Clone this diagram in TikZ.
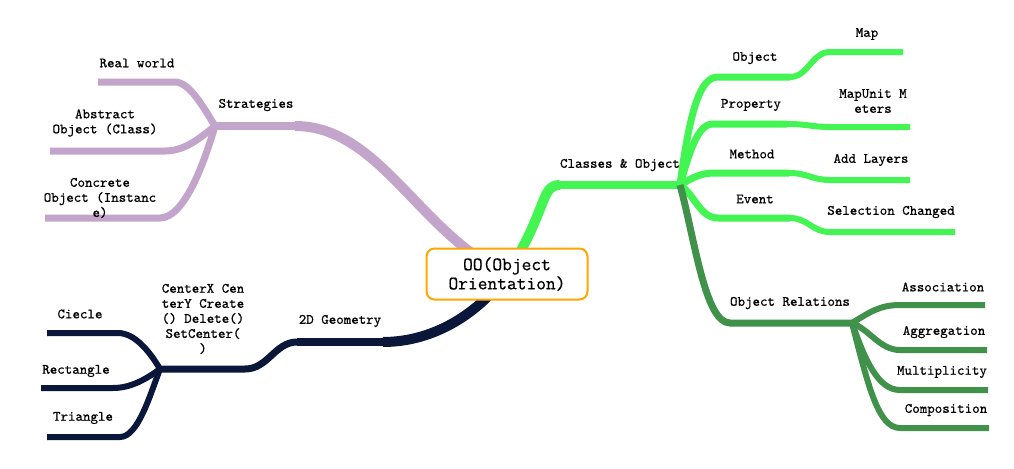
\documentclass[tikz,border=0pt]{standalone}
\usepackage{fontspec}
\newfontfamily\mapfont{Latin Modern Mono}[FakeBold=0.6]
\usetikzlibrary{calc,positioning,backgrounds}
\definecolor{strpurple}{RGB}{195,165,204}
\definecolor{geonavy}{RGB}{10,22,58}
\definecolor{clsgreen}{RGB}{66,245,82}
\definecolor{relgreen}{RGB}{64,145,74}
\definecolor{rootorange}{RGB}{255,166,0}

\begin{document}
\begin{tikzpicture}[x=0.75pt,y=-0.75pt,
	root/.style = {draw=rootorange, line width=1.5pt, rounded corners=6pt, fill=white, align=center,
		minimum width=120.75pt, minimum height=38.25pt, inner sep=0pt, font=\mapfont\fontsize{14.2}{14.3}\selectfont},
	lbl/.style = {align=center, inner sep=0pt, font=\mapfont\fontsize{10.7}{11.3}\selectfont},
	l0/.style = {line width=7.5pt},
	l1/.style = {line width=6pt},
	l2/.style = {line width=5.25pt},
	l3/.style = {line width=4.5pt}]
	\useasboundingbox (0,0) rectangle (1014,468);

	% centre topic
	\node[root] (oo) at (507,274) {OO(Object\\Orientation)};

	% line ends of the topics
	\coordinate (strat-r) at (295,126); \coordinate (strat) at (215,126);
	\coordinate (real-r) at (175,82);   \coordinate (real) at (98,82);
	\coordinate (abs-r) at (165,151);   \coordinate (abs) at (50,151);
	\coordinate (conc-r) at (160,218);  \coordinate (conc) at (45,218);
	\coordinate (geo-r) at (383,342);   \coordinate (geo) at (297,342);
	\coordinate (memb-r) at (245,369);  \coordinate (memb) at (160,369);
	\coordinate (circ-r) at (118,333);  \coordinate (circ) at (47,333);
	\coordinate (rect-r) at (113,388);  \coordinate (rect) at (41,388);
	\coordinate (tri-r) at (120,437);   \coordinate (tri) at (47,437);
	\coordinate (cls-l) at (560,185);   \coordinate (cls) at (680,185);
	\coordinate (obj-l) at (718,77);    \coordinate (obj) at (790,77);
	\coordinate (prop-l) at (713,124);  \coordinate (prop) at (787,124);
	\coordinate (meth-l) at (715,173);  \coordinate (meth) at (789,173);
	\coordinate (evt-l) at (718,218);   \coordinate (evt) at (790,218);
	\coordinate (map-l) at (830,52);    \coordinate (map) at (903,52);
	\coordinate (unit-l) at (830,127);  \coordinate (unit) at (910,127);
	\coordinate (lay-l) at (830,180);   \coordinate (lay) at (910,180);
	\coordinate (sel-l) at (830,232);   \coordinate (sel) at (955,232);
	\coordinate (rel-l) at (730,323);   \coordinate (rel) at (852,323);
	\coordinate (asso-l) at (900,305);  \coordinate (asso) at (985,305);
	\coordinate (aggr-l) at (900,350);  \coordinate (aggr) at (987,350);
	\coordinate (mult-l) at (900,390);  \coordinate (mult) at (988,390);
	\coordinate (comp-l) at (900,428);  \coordinate (comp) at (989,428);

	\begin{scope}[on background layer]
		% Strategies
		\draw[l0, strpurple] (oo.center) .. controls (420,235) and (380,126) .. (strat-r);
		\draw[l1, strpurple] (strat-r) -- (strat);
		\draw[l2, strpurple] (strat) .. controls (205,110) and (190,82) .. (real-r) -- (real);
		\draw[l2, strpurple] (strat) .. controls (200,138) and (185,151) .. (abs-r) -- (abs);
		\draw[l2, strpurple] (strat) .. controls (205,160) and (185,218) .. (conc-r) -- (conc);
		% 2D Geometry
		\draw[l0, geonavy] (oo.center) .. controls (480,312) and (435,342) .. (geo-r);
		\draw[l1, geonavy] (geo-r) -- (geo);
		\draw[l2, geonavy] (geo) .. controls (275,342) and (268,369) .. (memb-r) -- (memb);
		\draw[l3, geonavy] (memb) .. controls (150,352) and (135,333) .. (circ-r) -- (circ);
		\draw[l3, geonavy] (memb) .. controls (145,380) and (130,388) .. (rect-r) -- (rect);
		\draw[l3, geonavy] (memb) .. controls (150,395) and (138,437) .. (tri-r) -- (tri);
		% Classes & Object
		\draw[l0, clsgreen] (oo.center) .. controls (548,210) and (540,185) .. (cls-l);
		\draw[l1, clsgreen] (cls-l) -- (cls);
		\draw[l2, clsgreen] (cls) .. controls (690,110) and (700,77) .. (obj-l) -- (obj);
		\draw[l2, clsgreen] (cls) .. controls (690,150) and (698,124) .. (prop-l) -- (prop);
		\draw[l2, clsgreen] (cls) .. controls (692,178) and (700,173) .. (meth-l) -- (meth);
		\draw[l2, clsgreen] (cls) .. controls (695,195) and (700,218) .. (evt-l) -- (evt);
		\draw[l3, clsgreen] (obj) .. controls (808,77) and (812,52) .. (map-l) -- (map);
		\draw[l3, clsgreen] (prop) .. controls (808,124) and (812,127) .. (unit-l) -- (unit);
		\draw[l3, clsgreen] (meth) .. controls (808,173) and (812,180) .. (lay-l) -- (lay);
		\draw[l3, clsgreen] (evt) .. controls (808,218) and (812,232) .. (sel-l) -- (sel);
		% Object Relations
		\draw[l2, relgreen] (cls) .. controls (695,240) and (705,323) .. (rel-l) -- (rel);
		\draw[l3, relgreen] (rel) .. controls (870,312) and (880,305) .. (asso-l) -- (asso);
		\draw[l3, relgreen] (rel) .. controls (870,330) and (880,350) .. (aggr-l) -- (aggr);
		\draw[l3, relgreen] (rel) .. controls (865,360) and (878,390) .. (mult-l) -- (mult);
		\draw[l3, relgreen] (rel) .. controls (868,385) and (878,428) .. (comp-l) -- (comp);
	\end{scope}

	% topic texts
	\node[lbl] (t-strat) at (256,105) {Strategies};
	\node[lbl] (t-real) at (137,63) {Real world};
	\node[lbl] (t-abs) at (105,123) {Abstract\\Object (Class)};
	\node[lbl] (t-conc) at (100,198) {Concrete\\Object (Instanc\\e)};
	\node[lbl] (t-geo) at (340,321) {2D Geometry};
	\node[lbl] (t-memb) at (203,319) {CenterX Cen\\terY Create\\() Delete()\\ SetCenter(\\)};
	\node[lbl] (t-circ) at (80,314) {Ciecle};
	\node[lbl] (t-rect) at (76,371) {Rectangle};
	\node[lbl] (t-tri) at (83,418) {Triangle};
	\node[lbl] (t-cls) at (620,165) {Classes \& Object};
	\node[lbl] (t-obj) at (755,58) {Object};
	\node[lbl] (t-prop) at (751,105) {Property};
	\node[lbl] (t-meth) at (752,154) {Method};
	\node[lbl] (t-evt) at (755,199) {Event};
	\node[lbl] (t-map) at (867,34) {Map};
	\node[lbl] (t-unit) at (873,101) {MapUnit M\\eters};
	\node[lbl] (t-lay) at (871,160) {Add Layers};
	\node[lbl] (t-sel) at (891,212) {Selection Changed};
	\node[lbl] (t-rel) at (790,303) {Object Relations};
	\node[lbl] (t-asso) at (943,287) {Association};
	\node[lbl] (t-aggr) at (944,332) {Aggregation};
	\node[lbl] (t-mult) at (942,372) {Multiplicity};
	\node[lbl] (t-comp) at (946,410) {Composition};
\end{tikzpicture}
\end{document}
